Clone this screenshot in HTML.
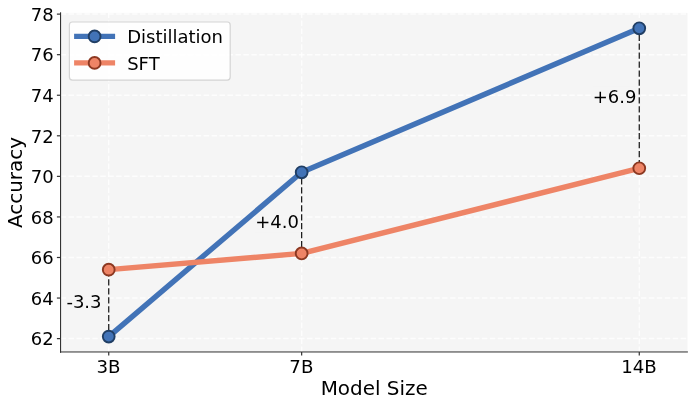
<!DOCTYPE html>
<html lang="en"><head><meta charset="utf-8"><title>Accuracy vs Model Size</title>
<style>html,body{margin:0;padding:0;background:#fff}body{width:695px;height:407px;overflow:hidden}</style>
</head><body>
<svg width="695" height="407" viewBox="0 0 695 407" style="display:block;font-family:'DejaVu Sans', 'Liberation Sans', sans-serif">
<rect x="0" y="0" width="695" height="407" fill="#ffffff"/>
<rect x="60.5" y="12.9" width="627.0" height="339.1" fill="#f5f5f5"/>
<g stroke="#ffffff" stroke-width="1.5" stroke-dasharray="5.55 2.4" stroke-opacity="0.75" fill="none">
<path d="M108.73 352.0 V12.9"/>
<path d="M301.65 352.0 V12.9"/>
<path d="M639.27 352.0 V12.9"/>
<path d="M60.5 338.61 H687.5"/>
<path d="M60.5 298.05 H687.5"/>
<path d="M60.5 257.49 H687.5"/>
<path d="M60.5 216.93 H687.5"/>
<path d="M60.5 176.37 H687.5"/>
<path d="M60.5 135.80 H687.5"/>
<path d="M60.5 95.24 H687.5"/>
<path d="M60.5 54.68 H687.5"/>
<path d="M60.5 14.12 H687.5"/>
</g>
<rect x="66.2" y="291.5" width="40.1" height="21" fill="#f5f5f5" fill-opacity="0.8"/>
<rect x="255.0" y="211.3" width="48.7" height="21" fill="#f5f5f5" fill-opacity="0.8"/>
<rect x="592.2" y="86.7" width="48.7" height="21" fill="#f5f5f5" fill-opacity="0.8"/>
<g stroke="#000000" stroke-opacity="0.9" stroke-width="1.25" stroke-dasharray="6.25 2.7" fill="none">
<path d="M108.73 270.35 V336.59"/>
<path d="M301.65 169.40 V253.43"/>
<path d="M639.27 34.65 V168.25"/>
</g>
<polyline points="108.73,336.59 301.65,172.31 639.27,28.31" fill="none" stroke="#4273B7" stroke-width="5.4" stroke-linejoin="round" stroke-linecap="square"/>
<circle cx="108.73" cy="336.59" r="5.9" fill="#4273B7" stroke="#203E64" stroke-width="1.9"/>
<circle cx="301.65" cy="172.31" r="5.9" fill="#4273B7" stroke="#203E64" stroke-width="1.9"/>
<circle cx="639.27" cy="28.31" r="5.9" fill="#4273B7" stroke="#203E64" stroke-width="1.9"/>
<polyline points="108.73,269.66 301.65,253.43 639.27,168.25" fill="none" stroke="#EE8466" stroke-width="5.4" stroke-linejoin="round" stroke-linecap="square"/>
<circle cx="108.73" cy="269.66" r="5.9" fill="#EE8466" stroke="#8C3821" stroke-width="1.9"/>
<circle cx="301.65" cy="253.43" r="5.9" fill="#EE8466" stroke="#8C3821" stroke-width="1.9"/>
<circle cx="639.27" cy="168.25" r="5.9" fill="#EE8466" stroke="#8C3821" stroke-width="1.9"/>
<text x="66.40" y="308.00" font-size="18" fill="#000000">-3.3</text>
<text x="255.20" y="227.80" font-size="18" fill="#000000">+4.0</text>
<text x="592.70" y="103.20" font-size="18" fill="#000000">+6.9</text>
<rect x="60" y="12.3" width="1.1" height="340.5" fill="#333333"/>
<rect x="60" y="351.2" width="627.9" height="1.5" fill="#333333" fill-opacity="0.67"/>
<g stroke="#333333" stroke-width="1.2" fill="none">
<path d="M56.9 338.61 H60.2"/>
<path d="M56.9 298.05 H60.2"/>
<path d="M56.9 257.49 H60.2"/>
<path d="M56.9 216.93 H60.2"/>
<path d="M56.9 176.37 H60.2"/>
<path d="M56.9 135.80 H60.2"/>
<path d="M56.9 95.24 H60.2"/>
<path d="M56.9 54.68 H60.2"/>
<path d="M56.9 14.12 H60.2"/>
<path d="M108.73 352 V355.4"/>
<path d="M301.65 352 V355.4"/>
<path d="M639.27 352 V355.4"/>
</g>
<g font-size="18" fill="#000000">
<text x="53.6" y="345.36" text-anchor="end">62</text>
<text x="53.6" y="304.80" text-anchor="end">64</text>
<text x="53.6" y="264.24" text-anchor="end">66</text>
<text x="53.6" y="223.68" text-anchor="end">68</text>
<text x="53.6" y="183.12" text-anchor="end">70</text>
<text x="53.6" y="142.55" text-anchor="end">72</text>
<text x="53.6" y="101.99" text-anchor="end">74</text>
<text x="53.6" y="61.43" text-anchor="end">76</text>
<text x="53.6" y="20.87" text-anchor="end">78</text>
<text x="108.43" y="372.5" text-anchor="middle" font-size="18.2">3B</text>
<text x="301.35" y="372.5" text-anchor="middle" font-size="18.2">7B</text>
<text x="638.97" y="372.5" text-anchor="middle" font-size="18.2">14B</text>
</g>
<text x="374.2" y="395.45" font-size="19.95" text-anchor="middle" fill="#000000">Model Size</text>
<text transform="translate(22.4,182.5) rotate(-90)" font-size="19.95" text-anchor="middle" fill="#000000">Accuracy</text>
<rect x="69.4" y="22" width="160.8" height="58.1" rx="3" ry="3" fill="#ffffff" fill-opacity="0.9" stroke="#d0d0d0" stroke-opacity="0.9" stroke-width="1.2"/>
<path d="M74.1 36.4 H115.1" stroke="#4273B7" stroke-width="5.4" fill="none"/>
<circle cx="94.6" cy="36.4" r="5.9" fill="#4273B7" stroke="#203E64" stroke-width="1.9"/>
<text x="127.2" y="43.10" font-size="18" fill="#000000">Distillation</text>
<path d="M74.1 62.9 H115.1" stroke="#EE8466" stroke-width="5.4" fill="none"/>
<circle cx="94.6" cy="62.9" r="5.9" fill="#EE8466" stroke="#8C3821" stroke-width="1.9"/>
<text x="127.2" y="69.60" font-size="18" fill="#000000">SFT</text>
</svg>
</body></html>
